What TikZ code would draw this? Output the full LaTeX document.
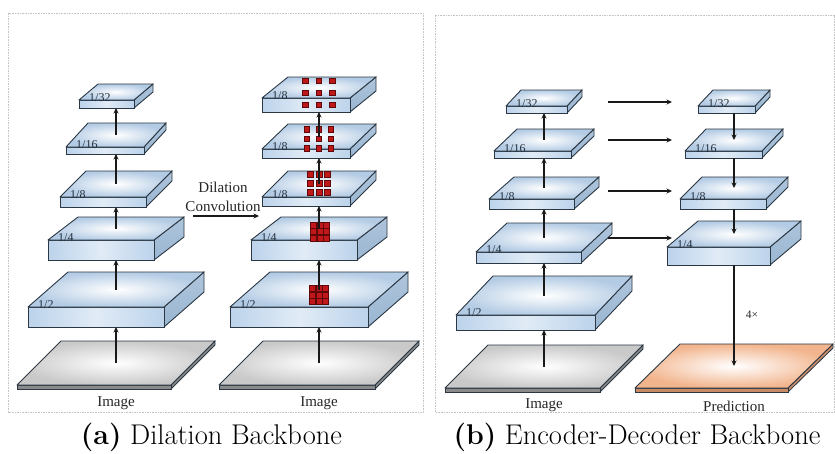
\documentclass[tikz,border=0pt]{standalone}
\usepackage{fontspec}
\newfontfamily\figfont{Liberation Serif}
\usetikzlibrary{arrows.meta}

\definecolor{edgecol}{HTML}{2B3844}
\definecolor{slabtop}{HTML}{B3CBE4}
\definecolor{slabfront}{HTML}{BCD3EB}
\definecolor{slabside}{HTML}{9AB6D2}
\definecolor{platetop}{HTML}{C9C9C9}
\definecolor{plateedge}{HTML}{8A8A8A}
\definecolor{predtop}{HTML}{F2B48C}
\definecolor{prededge}{HTML}{C98A66}
\definecolor{dotfill}{HTML}{C0181A}
\definecolor{dotedge}{HTML}{5E0808}
\definecolor{framecol}{HTML}{C4C4C4}
\definecolor{labcol}{HTML}{26323E}

% one feature map: side face, front face, top face, name and label
% #1 name, #2 x0, #3 x1, #4 top of front face, #5 bottom of front face, #6 dx, #7 dy, #8 label
\newcommand\slab[8]{%
  \shadedraw[sideface] (#3,#4) -- ({#3+#6},{#4-#7}) -- ({#3+#6},{#5-#7}) -- (#3,#5) -- cycle;
  \shadedraw[frontface] (#2,#4) rectangle (#3,#5);
  \shade[topface] (#2,#4) -- ({#2+#6},{#4-#7}) -- ({#3+#6},{#4-#7}) -- (#3,#4) -- cycle;
  \draw[edge] (#2,#4) -- ({#2+#6},{#4-#7}) -- ({#3+#6},{#4-#7}) -- (#3,#4) -- cycle;
  \coordinate (#1-top) at ({(#2+#3+#6)/2},{#4-#7/2});
  \coordinate (#1-bot) at ({(#2+#3+#6)/2},#5);
  \node[slablabel] (#1-lab) at ({#2+10},{#4+1.5}) {#8};
}

% a thin plate (input image / prediction); #8 = top colour, #9 = edge colour
\newcommand\plate[9]{%
  \filldraw[draw=edgecol, fill=#9, line width=0.8pt] (#3,#4) -- ({#3+#6},{#4-#7}) -- ({#3+#6},{#5-#7}) -- (#3,#5) -- cycle;
  \filldraw[draw=edgecol, fill=#9, line width=0.8pt] (#2,#4) rectangle (#3,#5);
  \shade[inner color=white, outer color=#8] (#2,#4) -- ({#2+#6},{#4-#7}) -- ({#3+#6},{#4-#7}) -- (#3,#4) -- cycle;
  \draw[edge] (#2,#4) -- ({#2+#6},{#4-#7}) -- ({#3+#6},{#4-#7}) -- (#3,#4) -- cycle;
  \coordinate (#1-top) at ({(#2+#3+#6)/2},{#4-#7/2});
}

% 3x3 grid of kernel taps centred at (#1,#2), spacing #3 / #4, square size #5
\newcommand\taps[5]{%
  \foreach \i in {-1,0,1}{\foreach \j in {-1,0,1}{%
    \filldraw[tap] ({#1+\i*#3-#5/2},{#2+\j*#4-#5/2}) rectangle ++(#5,#5);}}%
}

\begin{document}
\begin{tikzpicture}[x=1pt,y=-1pt,
  edge/.style={draw=edgecol, line width=0.9pt, line join=round},
  topface/.style={inner color=white, outer color=slabtop},
  frontface/.style={draw=edgecol, line width=0.9pt, left color=slabfront, right color=slabfront, middle color=slabfront!45!white},
  sideface/.style={draw=edgecol, line width=0.9pt, top color=slabside!80!white, bottom color=slabside},
  slablabel/.style={font=\figfont\fontsize{12}{13}\selectfont, text=labcol, anchor=base west, inner sep=0pt},
  arr/.style={draw=black!90, line width=1.5pt, -{Stealth[length=5.5pt,width=5pt]}},
  tap/.style={fill=dotfill, draw=dotedge, line width=0.6pt},
  figtext/.style={font=\figfont\fontsize{15}{19}\selectfont, text=black!85, inner sep=0pt},
  caption/.style={font=\fontsize{28.5}{32}\selectfont, inner sep=0pt},
  frame/.style={draw=framecol, line width=0.7pt, dash pattern=on 1.6pt off 1pt}]

\useasboundingbox (0,0) rectangle (835,453);
\fill[white] (0,0) rectangle (835,453);

% panel frames
\draw[frame] (8,13) rectangle (423,412);
\draw[frame] (435,15) rectangle (834.5,412);

% ---------- (a) plain backbone ----------
\plate{Aimg}{17}{171}{385}{389}{44}{44}{platetop}{plateedge}
\slab{A2}{28}{164}{307}{327}{40}{35}{1/2}
\slab{A4}{48}{154}{240}{260}{30}{23}{1/4}
\slab{A8}{60}{146}{197}{207}{26}{26}{1/8}
\slab{A16}{66}{144}{147}{154}{22}{24}{1/16}
\slab{A32}{79}{134}{100}{108}{19}{16}{1/32}

% ---------- (a) dilated backbone ----------
\plate{Bimg}{219}{375}{385}{389}{44}{44}{platetop}{plateedge}
\slab{B2}{230}{368}{307}{327}{40}{35}{1/2}
\slab{B4}{251}{357}{240}{260}{30}{23}{1/4}
\slab{B8c}{262}{350}{197}{206}{26}{26}{1/8}
\slab{B8b}{262}{350}{149}{158}{26}{25}{1/8}
\slab{B8a}{262}{350}{98}{112}{26}{21}{1/8}

\taps{319}{295}{6.4}{6.6}{6}
\taps{320}{231.5}{6.4}{6.4}{6}
\taps{319}{183}{8.5}{8.8}{6}
\taps{319}{139}{12}{9.5}{5.5}
\taps{319}{93}{13.5}{12}{5.5}

% upward connections
\draw[arr] (Aimg-top) -- (Aimg-top |- A2-bot);
\draw[arr] (A2-top) -- (A2-top |- A4-bot);
\draw[arr] (A4-top) -- (A4-top |- A8-bot);
\draw[arr] (A8-top) -- (A8-top |- A16-bot);
\draw[arr] (A16-top) -- (A16-top |- A32-bot);

\draw[arr] (Bimg-top) -- (Bimg-top |- B2-bot);
\draw[arr] (B2-top) -- (B2-top |- B4-bot);
\draw[arr] (B4-top) -- (B4-top |- B8c-bot);
\draw[arr] (B8c-top) -- (B8c-top |- B8b-bot);
\draw[arr] (B8b-top) -- (B8b-top |- B8a-bot);

\node[figtext] (imgA) at (116,403) {Image};
\node[figtext] (imgB) at (319,403) {Image};
\node[figtext, align=center] (dil) at (223,197) {Dilation\\Convolution};
\coordinate (dilS) at (193,216);
\coordinate (dilE) at (259,216);
\draw[arr] (dilS) -- (dilE);

% ---------- (b) encoder ----------
\plate{Cimg}{445}{600}{388}{392}{43}{43}{platetop}{plateedge}
\slab{C2}{456}{595}{315}{330}{37}{39}{1/2}
\slab{C4}{476}{581}{252}{263}{31}{29}{1/4}
\slab{C8}{489}{574}{199}{209}{25}{22}{1/8}
\slab{C16}{494}{571}{151}{158}{23}{22}{1/16}
\slab{C32}{506}{567}{106}{113}{15}{16}{1/32}

% ---------- (b) decoder ----------
\plate{Dpred}{635}{788}{388}{392}{45}{44}{predtop}{prededge}
\slab{D4}{667}{770}{247}{265}{31}{26}{1/4}
\slab{D8}{680}{766}{199}{209}{22}{22}{1/8}
\slab{D16}{685}{762}{151}{158}{21}{22}{1/16}
\slab{D32}{698}{755}{106}{113}{15}{16}{1/32}

\draw[arr] (Cimg-top) -- (Cimg-top |- C2-bot);
\draw[arr] (C2-top) -- (C2-top |- C4-bot);
\draw[arr] (C4-top) -- (C4-top |- C8-bot);
\draw[arr] (C8-top) -- (C8-top |- C16-bot);
\draw[arr] (C16-top) -- (C16-top |- C32-bot);

\draw[arr] (D32-bot) -- (D32-bot |- D16-top);
\draw[arr] (D16-bot) -- (D16-bot |- D8-top);
\draw[arr] (D8-bot) -- (D8-bot |- D4-top);
\draw[arr] (D4-bot) -- (D4-bot |- Dpred-top);

% skip connections
\coordinate (s32) at (608,102);  \coordinate (e32) at (672,102);
\coordinate (s16) at (608,140);  \coordinate (e16) at (672,140);
\coordinate (s8)  at (608,191);  \coordinate (e8)  at (672,191);
\coordinate (s4)  at (608,238);  \coordinate (e4)  at (672,238);
\draw[arr] (s32) -- (e32);
\draw[arr] (s16) -- (e16);
\draw[arr] (s8) -- (e8);
\draw[arr] (s4) -- (e4);

\node[figtext, font=\figfont\fontsize{11.5}{13}\selectfont] (up4) at (752,315) {4×};
\node[figtext] (imgC) at (544,405) {Image};
\node[figtext] (pred) at (734,406) {Prediction};

% captions
\node[caption] (capA) at (211.5,437) {\textbf{(a)} Dilation Backbone};
\node[caption] (capB) at (637,437) {\textbf{(b)} Encoder-Decoder Backbone};

\end{tikzpicture}
\end{document}
